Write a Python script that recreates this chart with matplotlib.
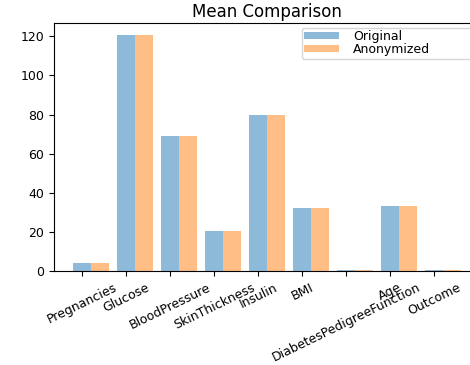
import numpy as np
import matplotlib
matplotlib.use("Agg")
import matplotlib.pyplot as plt

features = [
    "Pregnancies", "Glucose", "BloodPressure", "SkinThickness", "Insulin",
    "BMI", "DiabetesPedigreeFunction", "Age", "Outcome",
]
original_means = [3.85, 120.9, 69.1, 20.5, 79.8, 32.0, 0.47, 33.2, 0.35]
anonymized_means = [3.85, 120.9, 69.1, 20.5, 79.8, 32.0, 0.47, 33.5, 0.35]

bar_width = 0.4
x = np.arange(len(features))

fig = plt.figure(figsize=(4.7, 3.65), dpi=100)
# axes run slightly past the right edge of the canvas
ax = fig.add_axes([0.115, 0.2575, 0.906, 0.68])

ax.bar(x, original_means, width=bar_width, alpha=0.5, label="Original")
ax.bar(x + bar_width, anonymized_means, width=bar_width, alpha=0.5, label="Anonymized")

ax.set_xticks(x)
ax.set_xticklabels(features, rotation=26, ha="center", fontsize=9)
ax.tick_params(axis="y", labelsize=9)
ax.set_title("Mean Comparison", fontsize=12, pad=4)
ax.legend(loc="upper left", bbox_to_anchor=(0.582, 0.867, 0.402, 0.113),
          mode="expand", borderaxespad=0, fontsize=9, handlelength=2.8,
          handleheight=0.45, handletextpad=1.1, labelspacing=0.0,
          borderpad=0.2)

fig.savefig("out.png", dpi=100)
